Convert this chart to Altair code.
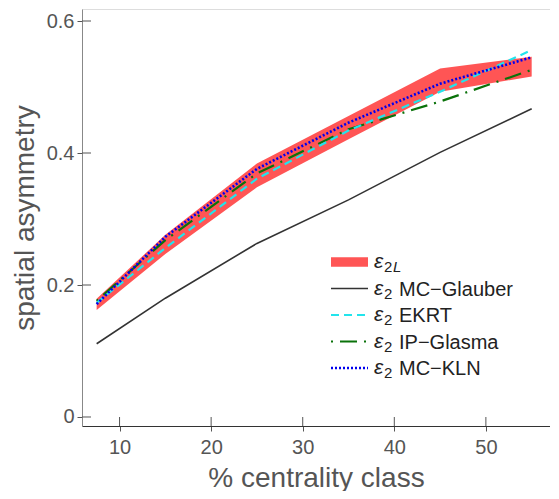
import altair as alt
import pandas as pd

# ---- data ----
centrality = [7.5, 15, 25, 35, 45, 55]
e2L_low = [0.162, 0.247, 0.348, 0.421, 0.493, 0.516]
e2L_high = [0.179, 0.276, 0.384, 0.456, 0.528, 0.546]
mc_glauber = [0.111, 0.180, 0.263, 0.329, 0.401, 0.467]
ekrt = [0.173, 0.256, 0.361, 0.434, 0.493, 0.556]
ip_glasma = [0.176, 0.268, 0.369, 0.436, 0.478, 0.526]
mc_kln = [0.171, 0.273, 0.376, 0.446, 0.505, 0.545]

x_ticks = [10, 20, 30, 40, 50]
y_ticks = [0, 0.2, 0.4, 0.6]
x_domain = [5.9, 57.0]
y_domain = [-0.01364, 0.6182]

legend_names = ["", "MC\u2212Glauber", "EKRT", "IP\u2212Glasma", "MC\u2212KLN"]

W, H = 468, 417
FONT = "Liberation Sans"

band_df = pd.DataFrame({"c": centrality, "lo": e2L_low, "hi": e2L_high})

xs = alt.Scale(domain=x_domain, nice=False, zero=False)
ys = alt.Scale(domain=y_domain, nice=False, zero=False)

xax = alt.Axis(values=x_ticks, title="% centrality class", grid=False,
               domainColor="#333333", tickColor="#555555", tickSize=5,
               labelFontSize=20, labelColor="#555555", labelPadding=6, labelFont=FONT,
               titleFontSize=28, titleColor="#555555", titleFontWeight="normal",
               titleFont=FONT, titlePadding=7)
yax = alt.Axis(values=y_ticks, title="spatial asymmetry", grid=False, format="~g",
               domainColor="#888888", tickColor="#555555", tickSize=5,
               labelFontSize=20, labelColor="#555555", labelPadding=3, labelFont=FONT,
               titleFontSize=28, titleColor="#555555", titleFontWeight="normal",
               titleFont=FONT, titlePadding=7)

band = alt.Chart(band_df).mark_area(color="#FF5555", opacity=1).encode(
    x=alt.X("c:Q", scale=xs, axis=xax),
    y=alt.Y("lo:Q", scale=ys, axis=yax),
    y2="hi:Q",
)

styles = [
    ("MC-Glauber", mc_glauber, "#333333", 1.6, None),
    ("IP-Glasma", ip_glasma, "#0A720A", 2.2, [2, 7, 17, 7]),
    ("EKRT", ekrt, "#22E4EC", 2.2, [8, 5]),
    ("MC-KLN", mc_kln, "#0000EE", 2.6, [2, 2]),
]

layers = [band]
for name, vals, col, w, dash in styles:
    df = pd.DataFrame({"c": centrality, "v": vals})
    kw = dict(color=col, strokeWidth=w)
    if dash:
        kw["strokeDash"] = dash
    layers.append(alt.Chart(df).mark_line(**kw).encode(
        x=alt.X("c:Q", scale=xs), y=alt.Y("v:Q", scale=ys)))

# inner halves of the crossing ticks
layers.append(alt.Chart(pd.DataFrame({"t": x_ticks})).mark_rule(color="#555555").encode(
    x=alt.X("t:Q", scale=xs), y=alt.value(H), y2=alt.value(H - 9)))
layers.append(alt.Chart(pd.DataFrame({"t": y_ticks})).mark_rule(color="#555555").encode(
    y=alt.Y("t:Q", scale=ys), x=alt.value(0), x2=alt.value(9)))

# legend
ly0, lstep = 253, 26.5
sx0, sx1 = 249, 286
for i, nm in enumerate(legend_names):
    yy = ly0 + i * lstep
    one = pd.DataFrame({"t": [nm]})
    if i == 0:
        layers.append(alt.Chart(one).mark_rule(color="#FF5555", strokeWidth=9.5, strokeCap="butt").encode(
            x=alt.value(sx0), x2=alt.value(sx1), y=alt.value(yy)))
    else:
        col, w, dash = styles[[0, 2, 1, 3][i - 1]][2:]
        kw = dict(color=col, strokeWidth=w)
        if dash:
            kw["strokeDash"] = dash
        layers.append(alt.Chart(one).mark_rule(**kw).encode(
            x=alt.value(sx0), x2=alt.value(sx1), y=alt.value(yy)))
    layers.append(alt.Chart(pd.DataFrame({"t": ["\u03b5"]})).mark_text(
        align="left", baseline="alphabetic", fontSize=21, fontStyle="italic", font=FONT, color="#222222").encode(
        x=alt.value(292), y=alt.value(yy + 6), text="t:N"))
    layers.append(alt.Chart(pd.DataFrame({"t": ["2"]})).mark_text(
        align="left", baseline="alphabetic", fontSize=15, font=FONT, color="#222222").encode(
        x=alt.value(302), y=alt.value(yy + 10), text="t:N"))
    if i == 0:
        layers.append(alt.Chart(pd.DataFrame({"t": ["L"]})).mark_text(
            align="left", baseline="alphabetic", fontSize=15, fontStyle="italic", font=FONT, color="#222222").encode(
            x=alt.value(311), y=alt.value(yy + 10), text="t:N"))
    else:
        layers.append(alt.Chart(one).mark_text(
            align="left", baseline="alphabetic", fontSize=20, font=FONT, color="#222222").encode(
            x=alt.value(317), y=alt.value(yy + 7), text="t:N"))

chart = alt.layer(*layers).properties(
    width=W, height=H,
    autosize=alt.AutoSizeParams(type="none"),
    padding={"left": 74, "top": 1, "right": 0, "bottom": 65},
).configure_view(stroke="#333333", strokeWidth=1.2).configure(background="white")

chart.save("out.html", embed_options={"renderer": "svg", "actions": False})
